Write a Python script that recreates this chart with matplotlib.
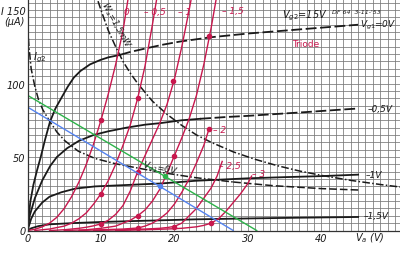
import matplotlib
matplotlib.use('Agg')
import matplotlib.pyplot as plt
import numpy as np

# ---------------- data ----------------
# pentode anode-current curves, Vg2 = 15 V  (Va in V, Ia in uA)
p0_va_solid = [0, 0.15, 0.4, 0.8, 1.3, 1.8, 2.4, 3.06, 3.8, 4.7, 5.5, 6.3, 7.2, 8.5, 9.9, 11, 12.6]
p0_ia_solid = [0, 9, 20, 31, 41, 50, 62, 74, 83, 91, 98, 104, 108.5, 113, 116, 117.8, 119.5]
p0_va_dash = [12.6, 14, 16.2, 18.5, 20.7, 25, 30, 35, 40, 45]
p0_ia_dash = [119.5, 121.5, 124, 126.5, 128.5, 131.5, 134, 136, 138, 140]

p05_va_solid = [0, 0.3, 1, 2, 3.1, 4, 5.4, 7, 9, 11, 13.5, 16, 18, 21, 23.5]
p05_ia_solid = [0, 10, 22, 34, 44, 50, 56, 61, 65, 67.5, 70, 72, 73, 75, 76]
p05_va_dash = [23.5, 27, 30, 34, 38, 42, 45]
p05_ia_dash = [76, 77.2, 78, 79.3, 80.6, 82, 83]

p1_va = [0, 0.5, 1, 2, 3, 4.6, 6.5, 9.2, 13.7, 18.2, 22.8, 30, 35, 40, 45]
p1_ia = [0, 8, 13, 19, 23, 26, 28.5, 30, 31, 32, 33.8, 35.5, 36.3, 37, 38]

p15_va = [0, 0.5, 1.5, 3, 6, 10, 15, 23, 30, 37, 45]
p15_ia = [0, 1.5, 3, 4.2, 5, 5.8, 6.5, 7.6, 8.2, 8.7, 9.2]

# screen current Ig2 (Vg1 = 0 V)
ig2_va = [0, 0.2, 0.5, 1, 1.5, 2.1, 3.06, 4, 5.1, 6.9, 9.2, 11.9, 15, 18.2, 22.8, 28]
ig2_ia = [140, 125, 110, 98, 89, 82, 74, 67, 61, 54, 49, 45.5, 42.5, 39.5, 36, 33]
ig2_va_dash = [28, 33.4, 40, 45.3]
ig2_ia_dash = [33, 30.5, 28.5, 27.5]

# anode dissipation limit Wa = 1.5 mW
wa_va = [9.6, 10, 11, 12, 13, 14, 15, 17, 19, 21, 23, 25, 28, 31, 34, 37, 40, 44, 48, 50.7]
wa_ia = [156, 150, 136, 125, 115, 107, 100, 88, 79, 71.5, 65, 60, 53.5, 48.4, 44.1, 40.5, 37.5, 34.1, 31.3, 29.6]

# triode curves (red), grid voltages
tri_labels = ['0', '\u2013 0,5', '\u2013 1', '\u2013 1,5', '\u2013 2', '\u2013 2,5', '\u2013 3']
tri_va = [
    [0, 1, 2, 3, 4, 5, 6, 7, 8, 9, 10, 11, 12, 13, 13.7],
    [1, 3, 5, 6, 7, 8, 9, 10, 11, 12, 13, 14, 15, 16, 17, 17.6],
    [3, 5, 7, 8, 9, 10, 11, 12, 13, 14, 15, 16, 17, 18, 19, 20, 21, 22, 22.3],
    [5, 8, 10, 12, 13, 14, 15, 16, 17, 18, 19, 20, 21, 22, 23, 24, 25, 25.7],
    [7, 10, 13, 15, 16, 17, 18, 19, 20, 21, 22, 23, 24, 24.7],
    [9, 13, 16, 18, 19, 20, 21, 22, 23, 24, 25, 25.8, 26.5],
    [12, 16, 19, 21, 23, 24, 25, 26, 27, 28, 29, 30, 30.5],
]
tri_ia = [
    [0, 0.8, 2.5, 5, 9, 15, 23, 33, 45, 59, 75, 93, 113, 136, 158],
    [0, 1, 3, 5, 8, 12, 18, 25, 34, 45, 58, 72, 90, 112, 140, 158],
    [0, 0.5, 1.5, 2.2, 3.2, 4.5, 7, 11, 17, 27, 40, 51, 62, 73, 86, 103, 125, 150, 158],
    [0, 0.5, 1.5, 3, 5, 7, 10, 14, 20, 28, 39, 51, 63, 76, 92, 113, 138, 158],
    [0, 0.5, 1, 1.7, 3, 5, 8, 12, 18, 26, 35, 46, 58, 69],
    [0, 0.5, 1, 1.5, 2, 2.8, 5, 10, 15, 22, 29, 37, 47],
    [0, 0.5, 1, 1.5, 2.5, 3.5, 5, 8, 13, 19, 25, 32, 37],
]
tri_mark_va = [10, 10, 10, 15, 15, 15, 15, 19.8, 20, 20, 24.7, 24.7, 25]
tri_mark_ia = [75, 25, 4.5, 90, 40, 10, 1.7, 102, 51, 2.4, 132, 69, 5]

# load lines
blue_va = [0, 28]
blue_ia = [84, 0]
blue_pt = (18, 30)
green_va = [0, 31.2]
green_ia = [92, 0]
green_pt = (18.7, 37)

# ---------------- drawing ----------------
RED = '#c8184e'
BLUE = '#5584f0'
GREEN = '#2db34a'
INK = '#1a1a1a'

fig = plt.figure(figsize=(4.0, 2.55), dpi=100)
ax = fig.add_axes([27.5 / 400, (255 - 231.5) / 255, 1 - 27.5 / 400, 231.5 / 255])
ax.set_xlim(0, 50.7)
ax.set_ylim(0, 157.5)

ax.set_xticks([0, 10, 20, 30, 40])
ax.set_xticks(np.arange(0, 51, 1), minor=True)
ax.set_yticks([0, 50, 100, 150])
ax.set_yticks(np.arange(0, 158, 5), minor=True)
ax.set_xticklabels(['0', '10', '20', '30', '40'])
ax.set_yticklabels(['0', '50', '100', 'I 150'])
ax.tick_params(which='both', length=0)
ax.tick_params(axis='x', pad=1.5, labelsize=7, labelcolor=INK)
ax.tick_params(axis='y', pad=1.5, labelsize=7, labelcolor=INK)
for lab in ax.get_xticklabels() + ax.get_yticklabels():
    lab.set_fontstyle('italic')
ax.grid(which='both', color='#777777', lw=0.55)
ax.set_axisbelow(True)
for s in ['top', 'right']:
    ax.spines[s].set_visible(False)
for s in ['left', 'bottom']:
    ax.spines[s].set_color('#333333')
    ax.spines[s].set_linewidth(0.9)

# black pentode curves
ax.plot(p0_va_solid, p0_ia_solid, color=INK, lw=1.3)
ax.plot(p0_va_dash, p0_ia_dash, color=INK, lw=1.3, dashes=(6, 2))
ax.plot(p05_va_solid, p05_ia_solid, color=INK, lw=1.3)
ax.plot(p05_va_dash, p05_ia_dash, color=INK, lw=1.3, dashes=(6, 2))
ax.plot(p1_va, p1_ia, color=INK, lw=1.3)
ax.plot(p15_va, p15_ia, color=INK, lw=1.3)
ax.plot(ig2_va, ig2_ia, color=INK, lw=1.1, dashes=(5, 1.5, 1, 1.5))
ax.plot(ig2_va_dash, ig2_ia_dash, color=INK, lw=1.1, dashes=(5, 2))
ax.plot(wa_va, wa_ia, color=INK, lw=1.1, dashes=(5, 1.5, 1, 1.5))

# triode curves
for va, ia in zip(tri_va, tri_ia):
    ax.plot(va, ia, color=RED, lw=1.0)
ax.plot(tri_mark_va, tri_mark_ia, 'o', color=RED, ms=3, mec=RED)

# load lines
ax.plot(blue_va, blue_ia, color=BLUE, lw=1.0)
ax.plot(*blue_pt, 'o', color=BLUE, ms=3)
ax.plot(green_va, green_ia, color=GREEN, lw=1.0)
ax.plot(*green_pt, 'o', color=GREEN, ms=3)

# texts
it = dict(fontstyle='italic', color=INK)
ax.text(-0.4, 142.5, '(\u00b5A)', ha='right', va='center', fontsize=7, clip_on=False, **it)
ax.text(44.6, -4.6, '$V_a$ (V)', ha='left', va='center', fontsize=7, clip_on=False, **it)
ax.text(0.8, 118, '$I_{g2}$', ha='left', va='center', fontsize=7.5, **it)
ax.text(12.0, 140, '$W_a$=1,5mW', ha='center', va='center', fontsize=6, rotation=-61, **it)
ax.text(15.5, 42, '$V_{g1}$=0V', ha='left', va='center', fontsize=6.5, rotation=-12, **it)
ax.text(34.6, 147, '$V_{g2}$=15V', ha='left', va='center', fontsize=7, **it)
ax.text(41.4, 149, "DF 64  3-11-'53", ha='left', va='center', fontsize=4.5, **it)
ax.text(36.0, 127.5, 'Triode', ha='left', va='center', fontsize=6.5, color=RED)

ax.text(45.3, 140, '$V_{g1}$=0V', ha='left', va='center', fontsize=6.5, **it)
ax.text(46.3, 83, '\u20130,5V', ha='left', va='center', fontsize=6.5, **it)
ax.text(46.0, 38, '\u20131V', ha='left', va='center', fontsize=6.5, **it)
ax.text(45.8, 10.5, '\u20131,5V', ha='left', va='center', fontsize=6.5, **it)

tri_lab_pos = [(13.1, 149), (15.9, 149), (20.5, 149), (26.5, 150), (25.2, 69), (26.0, 44), (30.5, 39)]
for (x, y), t in zip(tri_lab_pos, tri_labels):
    ax.text(x, y, t, ha='left', va='center', fontsize=6.5, color=RED, fontstyle='italic')

fig.savefig('out.png', dpi=100)
